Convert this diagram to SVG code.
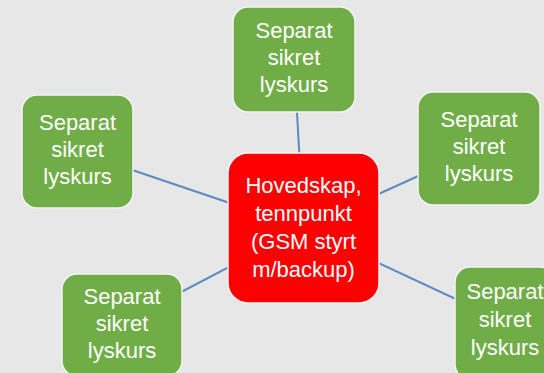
<svg xmlns="http://www.w3.org/2000/svg" width="544" height="373" viewBox="0 0 544 373">
<style>
.bg{fill:#e7e7e7}
.edge{stroke:#5b8bc0;stroke-width:2;fill:none}
.leaf{fill:#70ad47;stroke:#f4f4f4;stroke-width:1.5}
.hub{fill:#ff0000;stroke:#f4f4f4;stroke-width:1.5}
text{font-family:"Liberation Sans",Arial,sans-serif;font-size:22px;fill:#ffffff;text-anchor:middle}
</style>
<rect class="bg" x="0" y="0" width="544" height="373"/>
<g id="connectors">
<line class="edge" x1="303.5" y1="228" x2="294" y2="59.5"/>
<line class="edge" x1="303.5" y1="228" x2="77.5" y2="151.5"/>
<line class="edge" x1="303.5" y1="228" x2="479" y2="148.5"/>
<line class="edge" x1="303.5" y1="228" x2="122" y2="323"/>
<line class="edge" x1="303.5" y1="228" x2="505" y2="322"/>
</g>
<g id="node-top">
<rect class="leaf" x="233" y="7" width="122" height="105" rx="15"/>
<text x="294" y="38">Separat</text>
<text x="294" y="65">sikret</text>
<text x="294" y="92">lyskurs</text>
</g>
<g id="node-left">
<rect class="leaf" x="22" y="95" width="111" height="113" rx="15"/>
<text x="77.5" y="130">Separat</text>
<text x="77.5" y="157">sikret</text>
<text x="77.5" y="184">lyskurs</text>
</g>
<g id="node-right">
<rect class="leaf" x="418" y="92" width="122" height="113" rx="15"/>
<text x="479" y="127">Separat</text>
<text x="479" y="154">sikret</text>
<text x="479" y="181">lyskurs</text>
</g>
<g id="node-bottom-left">
<rect class="leaf" x="62" y="274" width="120" height="102" rx="15"/>
<text x="122" y="304">Separat</text>
<text x="122" y="331">sikret</text>
<text x="122" y="358">lyskurs</text>
</g>
<g id="node-bottom-right">
<rect class="leaf" x="455" y="267" width="100" height="112" rx="15"/>
<text x="505" y="299">Separat</text>
<text x="505" y="327">sikret</text>
<text x="505" y="355">lyskurs</text>
</g>
<g id="node-center">
<rect class="hub" x="228" y="153" width="151" height="150" rx="20"/>
<text x="303.5" y="193">Hovedskap,</text>
<text x="303.5" y="221">tennpunkt</text>
<text x="303.5" y="249">(GSM styrt</text>
<text x="303.5" y="277">m/backup)</text>
</g>
</svg>
